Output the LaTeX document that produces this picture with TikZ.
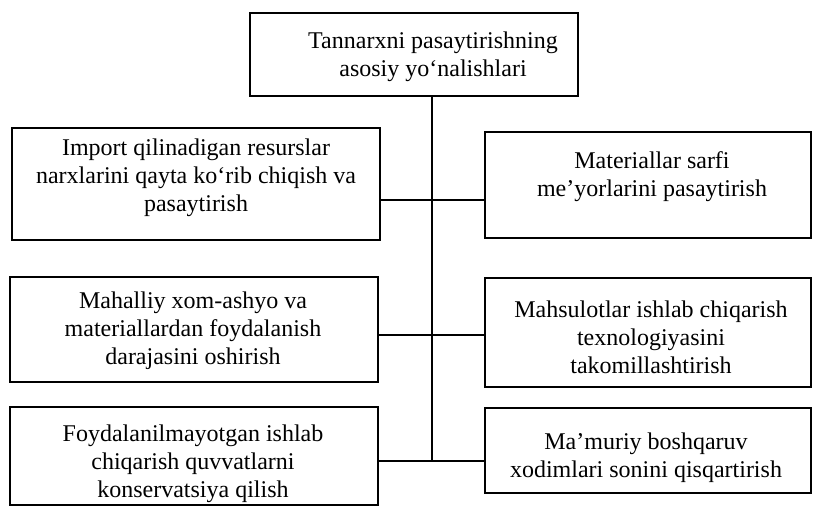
\documentclass[tikz,border=0pt]{standalone}
\usepackage{fontspec}
\setmainfont{Liberation Serif}
\begin{document}
\begin{tikzpicture}[x=1pt,y=-1pt,
  box/.style={draw=black,line width=1.4pt,rectangle,inner sep=0pt},
  txt/.style={inner sep=0pt,align=center,font=\fontsize{24}{28}\selectfont},
  conn/.style={draw=black,line width=2pt}]
\useasboundingbox (0,0) rectangle (814,511);
% boxes
\node[box,minimum width=328pt,minimum height=83pt] (top) at (414,54.5) {};
\node[box,minimum width=368pt,minimum height=112pt] (l1) at (196,184) {};
\node[box,minimum width=326pt,minimum height=106pt] (r1) at (648,185) {};
\node[box,minimum width=368pt,minimum height=105pt] (l2) at (194,329.5) {};
\node[box,minimum width=326pt,minimum height=109pt] (r2) at (648,332.5) {};
\node[box,minimum width=368pt,minimum height=98pt] (l3) at (194,456) {};
\node[box,minimum width=326pt,minimum height=85pt] (r3) at (648,450.5) {};
% texts
\node[txt] (ttop) at (433,57) {Tannarxni pasaytirishning\\asosiy yo‘nalishlari};
\node[txt] (tl1) at (196,177.5) {Import qilinadigan resurslar\\narxlarini qayta ko‘rib chiqish va\\pasaytirish};
\node[txt] (tr1) at (652,177) {Materiallar sarfi\\me’yorlarini pasaytirish};
\node[txt] (tl2) at (193,331) {Mahalliy xom-ashyo va\\materiallardan foydalanish\\darajasini oshirish};
\node[txt] (tr2) at (651,337) {Mahsulotlar ishlab chiqarish\\texnologiyasini\\takomillashtirish};
\node[txt] (tl3) at (193,464) {Foydalanilmayotgan ishlab\\chiqarish quvvatlarni\\konservatsiya qilish};
\node[txt] (tr3) at (646,458) {Ma’muriy boshqaruv\\xodimlari sonini qisqartirish};
% connectors
\coordinate (j1) at (432,200);
\coordinate (j2) at (432,335);
\coordinate (j3) at (432,461);
\draw[conn] (top.south -| j1) -- (j3);
\draw[conn] (j1 -| l1.east) -- (j1 -| r1.west);
\draw[conn] (j2 -| l2.east) -- (j2 -| r2.west);
\draw[conn] (j3 -| l3.east) -- (j3 -| r3.west);
\end{tikzpicture}
\end{document}
